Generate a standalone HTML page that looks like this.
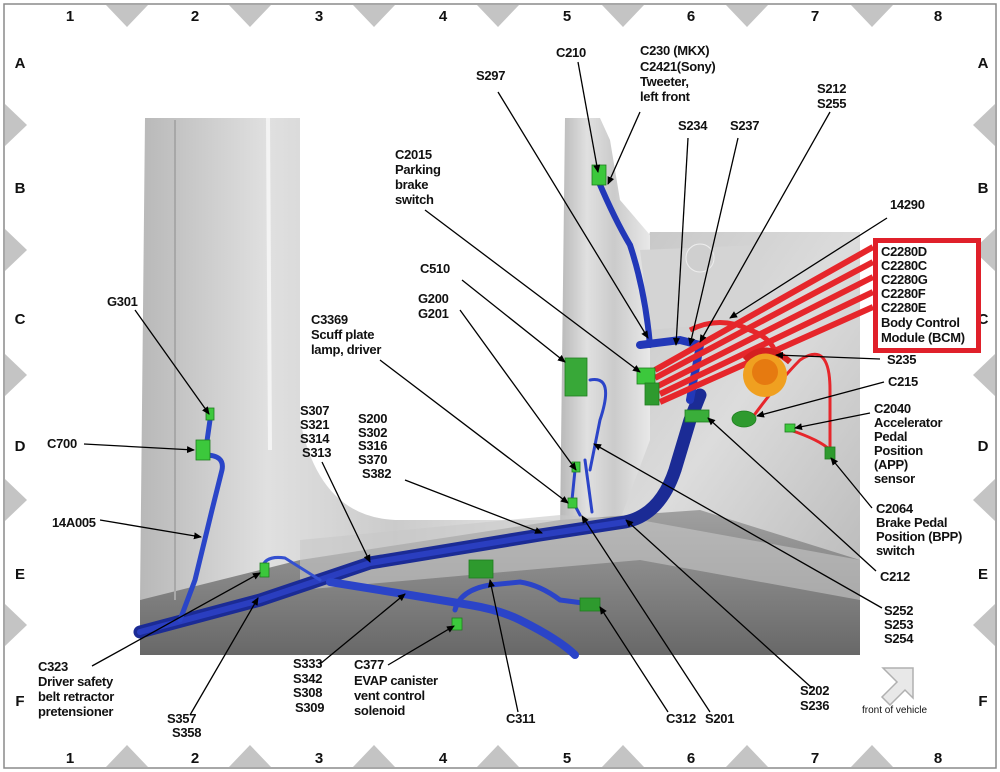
<!DOCTYPE html>
<html><head><meta charset="utf-8"><style>
html,body{margin:0;padding:0;background:#fff;}
svg{display:block;}
text{font-family:"Liberation Sans",Arial,sans-serif;font-size:13px;fill:#111;font-weight:bold;letter-spacing:-0.3px;}
.n{font-size:15px;font-weight:bold;letter-spacing:0;}
</style></head><body>
<svg width="1000" height="772" viewBox="0 0 1000 772" xmlns="http://www.w3.org/2000/svg">
<defs>
<marker id="a" markerWidth="8" markerHeight="8" refX="7" refY="4" orient="auto" markerUnits="userSpaceOnUse"><path d="M0,0.5 L8,4 L0,7.5 Z" fill="#000"/></marker>
<linearGradient id="pl" x1="0" x2="1"><stop offset="0" stop-color="#b8b8b8"/><stop offset="0.3" stop-color="#e0e0e0"/><stop offset="0.6" stop-color="#cbcbcb"/><stop offset="1" stop-color="#e8e8e8"/></linearGradient>
<linearGradient id="fl" x1="0" y1="0" x2="0" y2="1"><stop offset="0" stop-color="#a0a0a0"/><stop offset="1" stop-color="#686868"/></linearGradient>
<linearGradient id="rt" x1="0" y1="0" x2="1" y2="1"><stop offset="0" stop-color="#c0c0c0"/><stop offset="0.5" stop-color="#dcdcdc"/><stop offset="1" stop-color="#b4b4b4"/></linearGradient>
</defs>
<rect x="4" y="4" width="992" height="764" fill="#fff" stroke="#8a8a8a" stroke-width="1.5"/>
<g fill="#c4c4c4">
<path d="M106,5 L148,5 L127,27Z"/><path d="M229,5 L271,5 L250,27Z"/><path d="M353,5 L395,5 L374,27Z"/><path d="M477,5 L519,5 L498,27Z"/><path d="M602,5 L644,5 L623,27Z"/><path d="M726,5 L768,5 L747,27Z"/><path d="M851,5 L893,5 L872,27Z"/>
<path d="M106,767 L148,767 L127,745Z"/><path d="M229,767 L271,767 L250,745Z"/><path d="M353,767 L395,767 L374,745Z"/><path d="M477,767 L519,767 L498,745Z"/><path d="M602,767 L644,767 L623,745Z"/><path d="M726,767 L768,767 L747,745Z"/><path d="M851,767 L893,767 L872,745Z"/>
<path d="M5,104 L5,146 L27,125Z"/><path d="M5,229 L5,271 L27,250Z"/><path d="M5,354 L5,396 L27,375Z"/><path d="M5,479 L5,521 L27,500Z"/><path d="M5,604 L5,646 L27,625Z"/>
<path d="M995,104 L995,146 L973,125Z"/><path d="M995,229 L995,271 L973,250Z"/><path d="M995,354 L995,396 L973,375Z"/><path d="M995,479 L995,521 L973,500Z"/><path d="M995,604 L995,646 L973,625Z"/>
</g>
<g text-anchor="middle">
<text class="n" x="70" y="21">1</text><text class="n" x="195" y="21">2</text><text class="n" x="319" y="21">3</text><text class="n" x="443" y="21">4</text><text class="n" x="567" y="21">5</text><text class="n" x="691" y="21">6</text><text class="n" x="815" y="21">7</text><text class="n" x="938" y="21">8</text>
<text class="n" x="70" y="763">1</text><text class="n" x="195" y="763">2</text><text class="n" x="319" y="763">3</text><text class="n" x="443" y="763">4</text><text class="n" x="567" y="763">5</text><text class="n" x="691" y="763">6</text><text class="n" x="815" y="763">7</text><text class="n" x="938" y="763">8</text>
<text class="n" x="20" y="68">A</text><text class="n" x="20" y="193">B</text><text class="n" x="20" y="324">C</text><text class="n" x="20" y="451">D</text><text class="n" x="20" y="579">E</text><text class="n" x="20" y="706">F</text>
<text class="n" x="983" y="68">A</text><text class="n" x="983" y="193">B</text><text class="n" x="983" y="324">C</text><text class="n" x="983" y="451">D</text><text class="n" x="983" y="579">E</text><text class="n" x="983" y="706">F</text>
</g>
<path d="M650,232 L860,232 L860,655 L560,655 L600,400 Z" fill="url(#rt)"/>
<path d="M565,118 L600,118 L610,140 L620,200 L650,235 L650,440 L620,520 L560,530 Z" fill="url(#pl)"/>
<path d="M145,118 L300,118 L300,420 Q320,520 400,520 L560,520 L565,540 L140,600 Z" fill="url(#pl)"/>
<path d="M140,600 L300,560 L560,520 L700,510 L860,560 L860,655 L140,655 Z" fill="url(#fl)"/>
<path d="M300,540 L560,515 L640,520 L860,560 L860,600 L640,560 L300,590Z" fill="#c8c8c8" opacity="0.6"/>
<path d="M640,250 L760,245 L760,320 L650,330Z" fill="#d4d4d4"/>
<circle cx="700" cy="258" r="14" fill="#cfcfcf" stroke="#eee"/>
<path d="M175,120 L175,600" stroke="#a8a8a8" stroke-width="2"/><path d="M268,118 L270,450" stroke="#f4f4f4" stroke-width="4"/>
<g fill="none" stroke-linecap="round">
<path d="M140,632 L260,600 L370,563 L540,535 L625,522 Q660,515 675,470 L690,420 L700,395" stroke="#1b2b95" stroke-width="13"/>
<path d="M140,632 L260,600 L370,563 L540,535 L625,522" stroke="#2a3ec0" stroke-width="6"/>
<path d="M210,420 L205,455 Q225,455 222,470 L212,510 L195,580 L180,620" stroke="#2a45c8" stroke-width="5"/>
<path d="M598,180 Q615,220 630,245 Q645,290 650,345" stroke="#2238b8" stroke-width="6"/>
<path d="M330,582 L410,595 L470,605 Q500,610 520,620 Q560,640 575,655" stroke="#2b44c8" stroke-width="8"/>
<path d="M455,610 Q460,590 490,585 L520,582 Q540,585 560,600 L598,605" stroke="#2b44c8" stroke-width="5"/>
<path d="M262,568 Q265,555 285,558 L320,580" stroke="#3450d0" stroke-width="3"/>
<path d="M575,470 L572,500 L580,515 M585,460 L592,512 M590,380 Q615,375 600,420 L590,470" stroke="#2b44c8" stroke-width="3"/>
<path d="M640,345 L680,340 L700,345 L690,400" stroke="#2238b8" stroke-width="8"/>
</g>
<g stroke="#e6262b" stroke-width="6" fill="none">
<path d="M655,370 L873,247"/><path d="M655,378 L873,262"/><path d="M658,386 L873,277"/><path d="M660,394 L873,292"/><path d="M660,402 L873,307"/>
<path d="M690,330 Q720,315 750,330 Q790,345 770,385" stroke-width="5"/>
<path d="M752,418 Q780,380 800,360 Q830,340 830,390 L830,450 Q820,440 790,430" stroke-width="3"/>
</g>
<circle cx="765" cy="375" r="22" fill="#f0a020"/><circle cx="765" cy="372" r="13" fill="#e67a10"/>
<path d="M745,360 Q765,340 790,362" stroke="#d42020" stroke-width="6" fill="none"/>
<g fill="#3cc83c" stroke="#1e7e1e" stroke-width="0.8">
<rect x="592" y="165" width="14" height="20"/><rect x="565" y="358" width="22" height="38" fill="#38a838"/>
<rect x="637" y="368" width="18" height="16"/><rect x="645" y="383" width="14" height="22" fill="#2e9a2e"/>
<rect x="685" y="410" width="24" height="12" fill="#3aae3a"/>
<ellipse cx="744" cy="419" rx="12" ry="8" fill="#2e9a2e"/><rect x="785" y="424" width="10" height="8"/><rect x="825" y="447" width="10" height="12" fill="#2e9a2e"/>
<rect x="206" y="408" width="8" height="12"/><rect x="196" y="440" width="14" height="20"/>
<rect x="260" y="563" width="9" height="14"/><rect x="568" y="498" width="9" height="10"/><rect x="572" y="462" width="8" height="10"/>
<rect x="469" y="560" width="24" height="18" fill="#2e9a2e"/><rect x="452" y="618" width="10" height="12"/><rect x="580" y="598" width="20" height="13" fill="#2e9a2e"/>
</g>
<rect x="875.5" y="240.5" width="103" height="110" fill="#fff" stroke="#e0202a" stroke-width="5"/>
<text x="556" y="57">C210</text>
<text x="640" y="55">C230 (MKX)</text><text x="640" y="71">C2421(Sony)</text><text x="640" y="86">Tweeter,</text><text x="640" y="101">left front</text>
<text x="476" y="80">S297</text>
<text x="678" y="130">S234</text><text x="730" y="130">S237</text>
<text x="817" y="93">S212</text><text x="817" y="108">S255</text>
<text x="395" y="159">C2015</text><text x="395" y="174">Parking</text><text x="395" y="189">brake</text><text x="395" y="204">switch</text>
<text x="890" y="209">14290</text>
<text x="881" y="256">C2280D</text><text x="881" y="270">C2280C</text><text x="881" y="284">C2280G</text><text x="881" y="298">C2280F</text><text x="881" y="312">C2280E</text><text x="881" y="327">Body Control</text><text x="881" y="342">Module (BCM)</text>
<text x="420" y="273">C510</text>
<text x="418" y="303">G200</text><text x="418" y="318">G201</text>
<text x="107" y="306">G301</text>
<text x="311" y="324">C3369</text><text x="311" y="339">Scuff plate</text><text x="311" y="354">lamp, driver</text>
<text x="887" y="364">S235</text><text x="888" y="386">C215</text>
<text x="300" y="415">S307</text><text x="300" y="429">S321</text><text x="300" y="443">S314</text><text x="302" y="457">S313</text>
<text x="874" y="413">C2040</text><text x="874" y="427">Accelerator</text><text x="874" y="441">Pedal</text><text x="874" y="455">Position</text><text x="874" y="469">(APP)</text><text x="874" y="483">sensor</text>
<text x="47" y="448">C700</text>
<text x="358" y="423">S200</text><text x="358" y="437">S302</text><text x="358" y="450">S316</text><text x="358" y="464">S370</text><text x="362" y="478">S382</text>
<text x="876" y="513">C2064</text><text x="876" y="527">Brake Pedal</text><text x="876" y="541">Position (BPP)</text><text x="876" y="555">switch</text>
<text x="52" y="527">14A005</text>
<text x="880" y="581">C212</text>
<text x="884" y="615">S252</text><text x="884" y="629">S253</text><text x="884" y="643">S254</text>
<text x="38" y="671">C323</text><text x="38" y="686">Driver safety</text><text x="38" y="701">belt retractor</text><text x="38" y="716">pretensioner</text>
<text x="167" y="723">S357</text><text x="172" y="737">S358</text>
<text x="293" y="668">S333</text><text x="293" y="683">S342</text><text x="293" y="697">S308</text><text x="295" y="712">S309</text>
<text x="354" y="669">C377</text><text x="354" y="685">EVAP canister</text><text x="354" y="700">vent control</text><text x="354" y="715">solenoid</text>
<text x="506" y="723">C311</text><text x="666" y="723">C312</text><text x="705" y="723">S201</text>
<text x="800" y="695">S202</text><text x="800" y="710">S236</text>
<path d="M883,668 L913,668 L913,698 L905,690 L890,705 L882,697 L897,682 L889,674 Z" fill="#e8e8e8" stroke="#b0b0b0" stroke-width="1.5"/>
<text x="862" y="713" style="font-size:10px;font-weight:normal;letter-spacing:0">front of vehicle</text>
<g stroke="#000" stroke-width="1.3" fill="none" marker-end="url(#a)">
<path d="M578,62 L598,172"/><path d="M640,112 L608,184"/><path d="M498,92 L648,338"/>
<path d="M688,138 L676,345"/><path d="M738,138 L690,345"/><path d="M830,112 L700,342"/>
<path d="M425,210 L640,372"/><path d="M887,218 L730,318"/><path d="M462,280 L565,362"/>
<path d="M460,310 L576,470"/><path d="M135,310 L209,414"/><path d="M380,360 L568,503"/>
<path d="M84,444 L194,450"/><path d="M322,462 L370,562"/><path d="M405,480 L542,533"/>
<path d="M100,520 L201,537"/><path d="M880,359 L776,355"/><path d="M884,382 L757,416"/>
<path d="M870,413 L795,428"/><path d="M872,508 L831,458"/><path d="M876,571 L708,418"/>
<path d="M882,608 L594,444"/><path d="M92,666 L260,573"/><path d="M190,715 L258,598"/>
<path d="M320,664 L405,594"/><path d="M388,665 L454,626"/><path d="M518,712 L490,580"/>
<path d="M668,712 L600,607"/><path d="M710,712 L582,516"/><path d="M812,688 L626,520"/>
</g>
</svg>
</body></html>
